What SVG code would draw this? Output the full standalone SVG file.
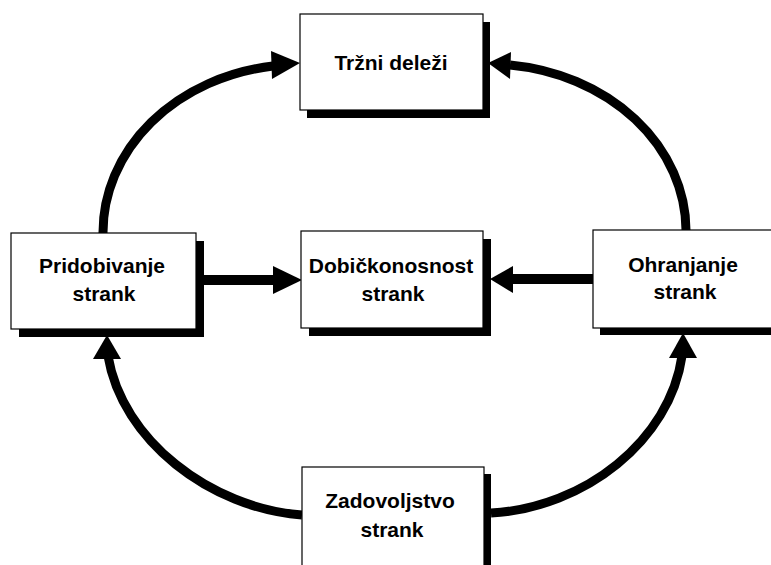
<svg xmlns="http://www.w3.org/2000/svg" width="771" height="565" viewBox="0 0 771 565">
<style>
.box{fill:#fff;stroke:#000;stroke-width:1.2}
.shadow{fill:#000}
.lbl{font-family:"Liberation Sans",Arial,sans-serif;font-weight:bold;font-size:21px;fill:#000;text-anchor:middle}
.conn{fill:none;stroke:#000;stroke-width:9}
.bar{fill:none;stroke:#000;stroke-width:10}
.head{fill:#000}
</style>
<rect width="771" height="565" fill="#fff"/>
<g id="connectors">
<path class="conn" d="M103,233 A197,168 0 0 1 273,66"/>
<polygon class="head" points="271,51 300,63 272,79"/>
<path class="conn" d="M686,230 A198,167 0 0 0 510,65"/>
<polygon class="head" points="511,52 488,63 510,79"/>
<path class="conn" d="M108,356 C122,440 210,508 302,515"/>
<polygon class="head" points="93,359 107,335 121,359"/>
<path class="conn" d="M682,356 C670,440 585,508 491,513"/>
<polygon class="head" points="669,358 683,333 697,358"/>
<path class="bar" d="M203,280 H275"/>
<polygon class="head" points="273,266 302,280 273,294"/>
<path class="bar" d="M510,279 H593"/>
<polygon class="head" points="513,266 490,279 513,293"/>
</g>
<g id="trzni">
<rect class="shadow" x="307" y="22" width="183" height="96"/>
<rect class="box" x="300" y="14" width="183" height="96"/>
<text class="lbl" x="391" y="70">Tržni deleži</text>
</g>
<g id="pridobivanje">
<rect class="shadow" x="19" y="241" width="185" height="96"/>
<rect class="box" x="11" y="233" width="185" height="96"/>
<text class="lbl" x="102" y="273">Pridobivanje</text>
<text class="lbl" x="104" y="301">strank</text>
</g>
<g id="dobickonosnost">
<rect class="shadow" x="309" y="239" width="182" height="97"/>
<rect class="box" x="301" y="231" width="182" height="97"/>
<text class="lbl" x="391" y="273">Dobičkonosnost</text>
<text class="lbl" x="393" y="301">strank</text>
</g>
<g id="ohranjanje">
<rect class="shadow" x="600" y="237" width="182" height="98"/>
<rect class="box" x="593" y="230" width="182" height="98"/>
<text class="lbl" x="683" y="272">Ohranjanje</text>
<text class="lbl" x="685" y="299">strank</text>
</g>
<g id="zadovoljstvo">
<rect class="shadow" x="309" y="474" width="182" height="110"/>
<rect class="box" x="302" y="467" width="182" height="110"/>
<text class="lbl" x="390" y="508">Zadovoljstvo</text>
<text class="lbl" x="392" y="537">strank</text>
</g>
</svg>
